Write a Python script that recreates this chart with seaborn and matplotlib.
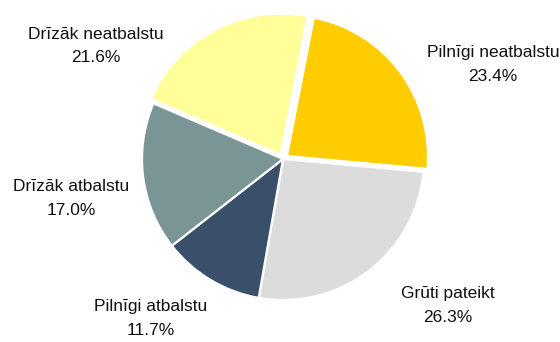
import matplotlib
matplotlib.use("Agg")
import matplotlib.pyplot as plt
import seaborn as sns

sns.set_theme(style="white")
plt.rcParams["font.family"] = ["Liberation Sans", "DejaVu Sans"]

# Survey answers, clockwise from the top
categories = ["Pilnīgi neatbalstu", "Grūti pateikt", "Pilnīgi atbalstu",
              "Drīzāk atbalstu", "Drīzāk neatbalstu"]
shares = [23.4, 26.3, 11.7, 17.0, 21.6]
colors = ["#FFCC00", "#DCDCDC", "#3A506A", "#7A9595", "#FFFF99"]
explode = [0.035, 0.0, 0.0, 0.0, 0.035]

# Label centres in pie-radius units
label_xy = [(1.49, 0.67), (1.17, -1.04), (-0.94, -1.13),
            (-1.50, -0.28), (-1.33, 0.80)]

W, H = 560, 342
cx, cy, r = 283, 159, 141  # pie centre and radius in pixels

fig = plt.figure(figsize=(W / 100, H / 100), dpi=100)
ax = fig.add_axes([0, 0, 1, 1])
ax.pie(shares, colors=colors, explode=explode, startangle=79,
       counterclock=False,
       wedgeprops=dict(edgecolor="white", linewidth=1.6))
ax.set_aspect("auto")
ax.set_xlim(-cx / r, (W - cx) / r)
ax.set_ylim(-(H - cy) / r, cy / r)
ax.axis("off")

for name, val, (x, y) in zip(categories, shares, label_xy):
    ax.text(x, y, f"{name}\n{val:.1f}%", ha="center", va="center",
            fontsize=12.5, color="#111111", linespacing=1.7)

fig.savefig("out.png", dpi=100, facecolor="white")
